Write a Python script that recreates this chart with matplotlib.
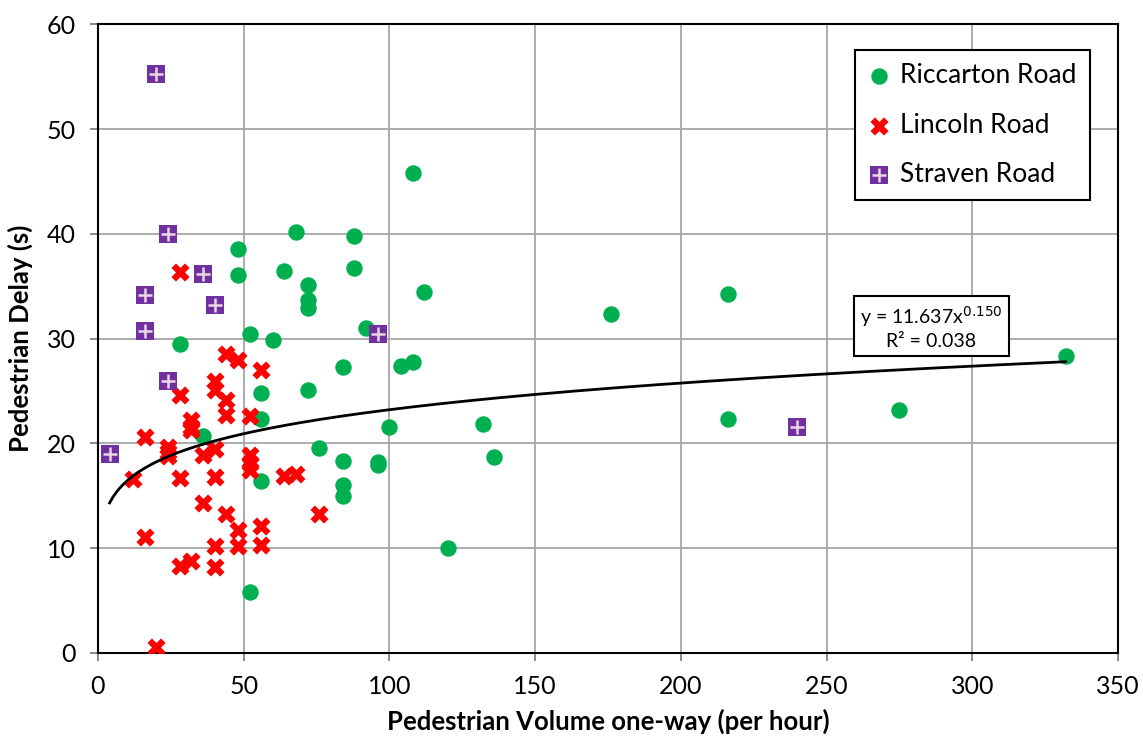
import numpy as np
import matplotlib
matplotlib.use("Agg")
import matplotlib.pyplot as plt
from matplotlib.legend_handler import HandlerTuple

plt.rcParams["font.family"] = ["Lato", "DejaVu Sans"]

# Riccarton Road (green circles)
ric_x = [108, 68, 88, 48, 48, 64, 88, 112, 72, 72, 72, 92, 52, 60, 28, 104, 108, 84,
         72, 56, 56, 36, 76, 100, 84, 96, 96, 84, 84, 56, 52, 120, 132, 136, 176, 216,
         216, 275, 332]
ric_y = [45.8, 40.2, 39.8, 38.6, 36.1, 36.5, 36.7, 34.5, 35.1, 33.7, 32.9, 31.0, 30.4,
         29.9, 29.5, 27.4, 27.8, 27.3, 25.1, 24.8, 22.3, 20.7, 19.6, 21.6, 18.3, 18.2,
         17.95, 16.0, 15.0, 16.4, 5.8, 10.0, 21.9, 18.7, 32.4, 34.3, 22.3, 23.2, 28.3]

# Lincoln Road (red crosses)
lin_x = [28, 44, 48, 56, 40, 40, 28, 44, 44, 52, 32, 32, 32, 16, 24, 24, 24, 36, 40,
         12, 28, 40, 52, 52, 52, 64, 68, 36, 44, 76, 48, 56, 16, 40, 48, 56, 28, 32,
         40, 20]
lin_y = [36.4, 28.5, 28.0, 27.0, 26.0, 25.1, 24.6, 24.1, 22.7, 22.6, 22.2, 21.6, 21.3,
         20.6, 19.7, 19.2, 18.8, 18.9, 19.5, 16.6, 16.7, 16.8, 18.9, 18.1, 17.5, 16.9,
         17.1, 14.3, 13.3, 13.3, 11.7, 12.1, 11.1, 10.2, 10.2, 10.3, 8.3, 8.8, 8.2, 0.6]

# Straven Road (purple squares)
str_x = [20, 24, 16, 36, 40, 16, 24, 4, 96, 240]
str_y = [55.3, 40.0, 34.2, 36.2, 33.2, 30.7, 26.0, 19.0, 30.4, 21.6]

# power trend line y = a * x^b as reported on the chart
trend_a = 11.637
trend_b = 0.150
trend_r2 = 0.038

fig = plt.figure(figsize=(11.43, 7.37), dpi=100)
ax = fig.add_axes([0.0857, 0.114, 0.8925, 0.853])

ax.grid(True, color="#a6a6a6", linewidth=1.3, zorder=0)
ax.set_axisbelow(True)

h_ric = ax.scatter(ric_x, ric_y, s=140, marker="o", color="#00B050", linewidths=0, zorder=3)
h_lin = ax.scatter(lin_x, lin_y, s=170, marker="X", color="#FF0000", linewidths=0, zorder=3)
h_str = ax.scatter(str_x, str_y, s=150, marker="s", color="#7030A0", linewidths=0, zorder=3)
h_str2 = ax.scatter(str_x, str_y, s=110, marker="+", color="#EAD7E6", linewidths=1.8, zorder=4)

all_x = ric_x + lin_x + str_x
xs = np.linspace(min(all_x), max(all_x), 300)
ax.plot(xs, trend_a * xs ** trend_b, color="black", linewidth=2, zorder=5)

ax.text(286, 31.1, f"y = {trend_a:.3f}x$^{{{trend_b:.3f}}}$\nR² = {trend_r2:.3f}",
        ha="center", va="center", fontsize=14, linespacing=1.3, zorder=6,
        bbox=dict(boxstyle="square,pad=0.3", facecolor="white", edgecolor="black", linewidth=1.5))

ax.set_xlim(0, 350)
ax.set_ylim(0, 60)
ax.set_xticks(range(0, 351, 50))
ax.set_yticks(range(0, 61, 10))
ax.tick_params(axis="both", labelsize=18, color="#808080", length=6, width=1.3)
ax.tick_params(axis="x", pad=10)
ax.tick_params(axis="y", pad=10)
for side in ["left", "bottom", "top", "right"]:
    ax.spines[side].set_color("black")
    ax.spines[side].set_linewidth(1.5)

ax.set_xlabel("Pedestrian Volume one-way (per hour)", fontsize=18.5, fontweight="bold")
ax.set_ylabel("Pedestrian Delay (s)", fontsize=18.5, fontweight="bold")
ax.xaxis.set_label_coords(0.5, -0.089)
ax.yaxis.set_label_coords(-0.064, 0.5)

leg = ax.legend([h_ric, h_lin, (h_str, h_str2)], ["Riccarton Road", "Lincoln Road", "Straven Road"],
                handler_map={tuple: HandlerTuple(ndivide=1, pad=0)},
                loc="upper right", bbox_to_anchor=(0.972, 0.959), borderaxespad=0, fontsize=19,
                labelspacing=0.92, handlelength=0.8, handletextpad=0.4, borderpad=0.5,
                fancybox=False, framealpha=1, edgecolor="black")
leg.get_frame().set_linewidth(1.5)

fig.savefig("out.png", dpi=100)
